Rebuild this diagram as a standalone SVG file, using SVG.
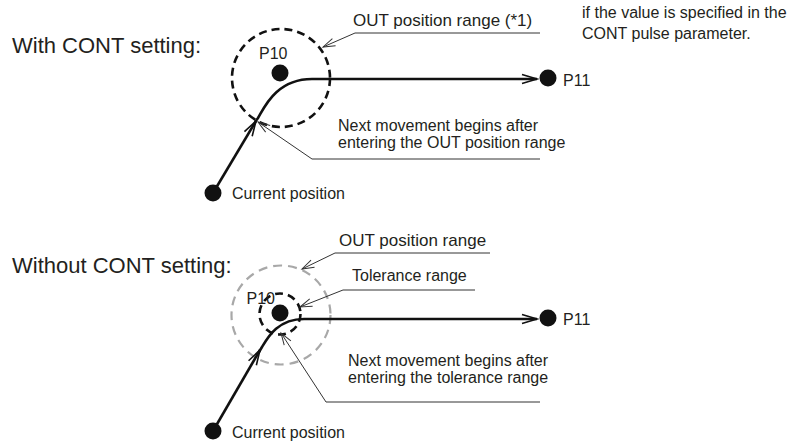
<svg xmlns="http://www.w3.org/2000/svg" width="804" height="448" viewBox="0 0 804 448">
  <style>
    text { font-family: "Liberation Sans", Arial, Helvetica, sans-serif; fill: #231f20; }
    .title { font-size: 22px; }
    .lbl { font-size: 16px; }
    .path { fill: none; stroke: #111; stroke-width: 2.6; }
    .leader { fill: none; stroke: #333; stroke-width: 1; }
    .dot { fill: #111; }
    .zone { fill: none; stroke: #111; stroke-width: 2.6; stroke-dasharray: 8 5; }
    .zone-grey { fill: none; stroke: #a8a8a8; stroke-width: 2.2; stroke-dasharray: 9 6; }
  </style>
  <defs>
    <marker id="vHead" viewBox="-16 -6 18 12" refX="0" refY="0" markerWidth="18" markerHeight="12" markerUnits="userSpaceOnUse" orient="auto">
      <path d="M-15,-4.5 L0,0 L-15,4.5" fill="none" stroke="#111" stroke-width="1.6"/>
    </marker>
    <marker id="leadHead" viewBox="-13 -6 15 12" refX="0" refY="0" markerWidth="15" markerHeight="12" markerUnits="userSpaceOnUse" orient="auto">
      <path d="M-12,-4 L0,0 L-12,4" fill="none" stroke="#333" stroke-width="1"/>
    </marker>
  </defs>

  <!-- headings and note -->
  <text class="title" x="12" y="53">With CONT setting:</text>
  <text class="title" x="12" y="273">Without CONT setting:</text>
  <text class="lbl" x="582" y="18">if the value is specified in the</text>
  <text class="lbl" x="582" y="39">CONT pulse parameter.</text>

  <!-- ranges -->
  <g id="range-out-1"><circle class="zone" cx="281" cy="78" r="49"/></g>
  <g id="range-out-2"><circle class="zone-grey" cx="281" cy="315" r="49.5"/></g>
  <g id="range-tol-2"><circle class="zone" cx="280" cy="314" r="20.5" stroke-dasharray="7 4.5"/></g>

  <!-- connectors: movement paths and callout leaders -->
  <g id="connectors">
    <path class="path" d="M213,193 L256,121" marker-end="url(#vHead)"/>
    <path class="path" d="M255,122 L258,118 C264,108 276,79 312,79 L537,79" marker-end="url(#vHead)"/>
    <path class="path" d="M213,431 L260,350" marker-end="url(#vHead)"/>
    <path class="path" d="M259,352 L262,347 C268,337 278,319 304,319 L537,319" marker-end="url(#vHead)"/>

    <path class="leader" d="M540,33 L355,33 L323,47" marker-end="url(#leadHead)"/>
    <path class="leader" d="M540,159 L312,159 L258,122" marker-end="url(#leadHead)"/>
    <path class="leader" d="M490,253 L335,253 L302,269" marker-end="url(#leadHead)"/>
    <path class="leader" d="M475,290 L343,290 L300,307" marker-end="url(#leadHead)"/>
    <path class="leader" d="M540,402 L326,402 L281,333" marker-end="url(#leadHead)"/>
  </g>

  <!-- upper diagram points -->
  <g id="p10-a"><circle class="dot" cx="280" cy="73" r="8.5"/><text class="lbl" x="259" y="59">P10</text></g>
  <g id="p11-a"><circle class="dot" cx="548" cy="78" r="8.5"/><text class="lbl" x="563" y="86">P11</text></g>
  <g id="start-a"><circle class="dot" cx="213" cy="193" r="8.5"/><text class="lbl" x="232" y="199">Current position</text></g>
  <g id="label-out-a"><text class="lbl" x="353" y="26" style="font-size:17px">OUT position range (*1)</text></g>
  <g id="label-next-a">
    <text class="lbl" x="338" y="131">Next movement begins after</text>
    <text class="lbl" x="338" y="148">entering the OUT position range</text>
  </g>

  <!-- lower diagram points -->
  <g id="p10-b"><circle class="dot" cx="280" cy="313" r="8.5"/><text class="lbl" x="275" y="304" text-anchor="end">P10</text></g>
  <g id="p11-b"><circle class="dot" cx="548" cy="318" r="8.5"/><text class="lbl" x="563" y="325">P11</text></g>
  <g id="start-b"><circle class="dot" cx="213" cy="431" r="8.5"/><text class="lbl" x="232" y="438">Current position</text></g>
  <g id="label-out-b"><text class="lbl" x="339" y="246" style="font-size:17px">OUT position range</text></g>
  <g id="label-tol-b"><text class="lbl" x="352" y="281">Tolerance range</text></g>
  <g id="label-next-b">
    <text class="lbl" x="348" y="366">Next movement begins after</text>
    <text class="lbl" x="348" y="383">entering the tolerance range</text>
  </g>
</svg>
